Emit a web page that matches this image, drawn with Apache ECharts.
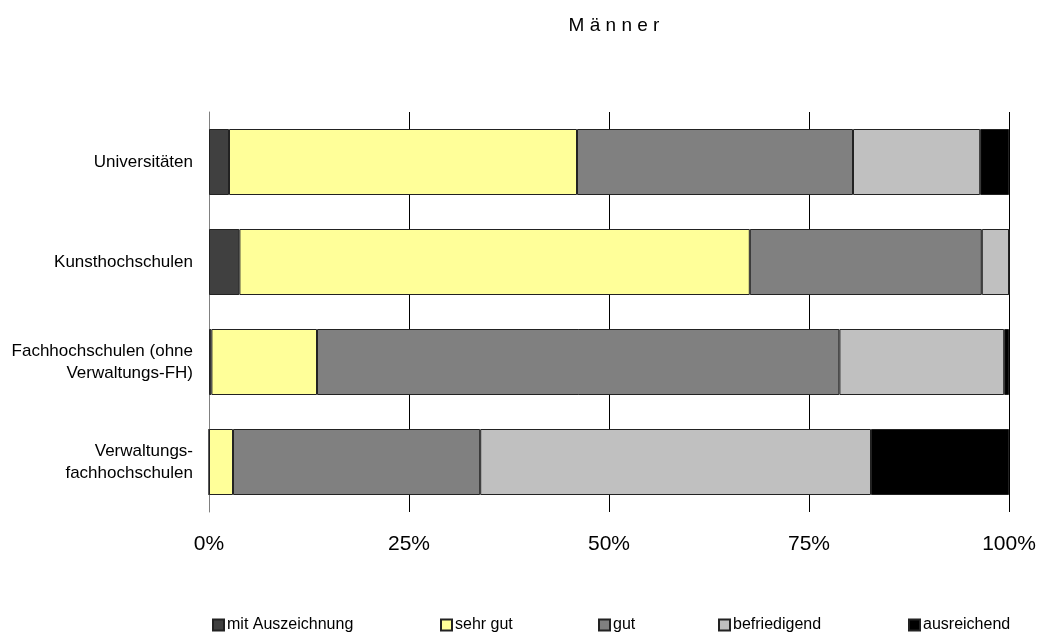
<!DOCTYPE html>
<html><head><meta charset="utf-8">
<script src="https://cdn.jsdelivr.net/npm/echarts@6/dist/echarts.min.js"></script>
<style>html,body{margin:0;padding:0;background:#fff}#c{width:1042px;height:639px}</style>
</head><body><div id="c"></div>
<script>
const categories = ['Universitäten', 'Kunsthochschulen', 'Fachhochschulen (ohne\nVerwaltungs-FH)', 'Verwaltungs-\nfachhochschulen'];
const seriesNames = ['mit Auszeichnung', 'sehr gut', 'gut', 'befriedigend', 'ausreichend'];
const mitAuszeichnung = [2.5, 3.8, 0.3, 0];
const sehrGut = [43.5, 63.8, 13.2, 3.0];
const gut = [34.5, 29.0, 65.3, 30.9];
const befriedigend = [15.9, 3.4, 20.6, 48.85];
const ausreichend = [3.6, 0, 0.6, 17.25];
const xTicks = [0, 25, 50, 75, 100];

const values = [mitAuszeichnung, sehrGut, gut, befriedigend, ausreichend];
const colors = ['#404040', '#FFFF99', '#808080', '#C0C0C0', '#000000'];
const legendLeft = [209, 437, 595, 715, 905];
const font = 'Arial, "Liberation Sans", sans-serif';

const chart = echarts.init(document.getElementById('c'), null, {renderer: 'canvas'});
chart.setOption({
  animation: false,
  backgroundColor: '#fff',
  title: {
    text: 'M ä n n e r', left: 609, top: 11, textAlign: 'center',
    textStyle: {fontFamily: font, fontSize: 19, fontWeight: 'normal', color: '#000'}
  },
  legend: seriesNames.map((n, i) => ({
    data: [n], left: legendLeft[i] - 2, top: 612, itemWidth: 11, itemHeight: 11, itemGap: 4,
    icon: 'rect',
    textStyle: {fontFamily: font, fontSize: 16, color: '#000', padding: [0, 0, 0, -2]}
  })),
  grid: {left: 209, right: 33, top: 112, bottom: 127, containLabel: false},
  xAxis: {
    type: 'value', min: 0, max: 100, interval: 25,
    axisLine: {show: false}, axisTick: {show: false},
    splitLine: {show: true, lineStyle: {color: '#000', width: 1}},
    axisLabel: {formatter: v => xTicks.includes(v) ? v + '%' : '', fontFamily: font, fontSize: 21, color: '#000', margin: 22}
  },
  yAxis: {
    type: 'category', data: categories, inverse: true,
    axisLine: {show: true, lineStyle: {color: '#808080', width: 1}},
    axisTick: {show: false},
    axisLabel: {fontFamily: font, fontSize: 17, color: '#000', margin: 16, align: 'right', lineHeight: 22}
  },
  series: seriesNames.map((n, i) => ({
    name: n, type: 'bar', stack: 'total', data: values[i], barWidth: 66,
    itemStyle: {color: colors[i], borderColor: '#222', borderWidth: 1}
  }))
});
</script></body></html>
